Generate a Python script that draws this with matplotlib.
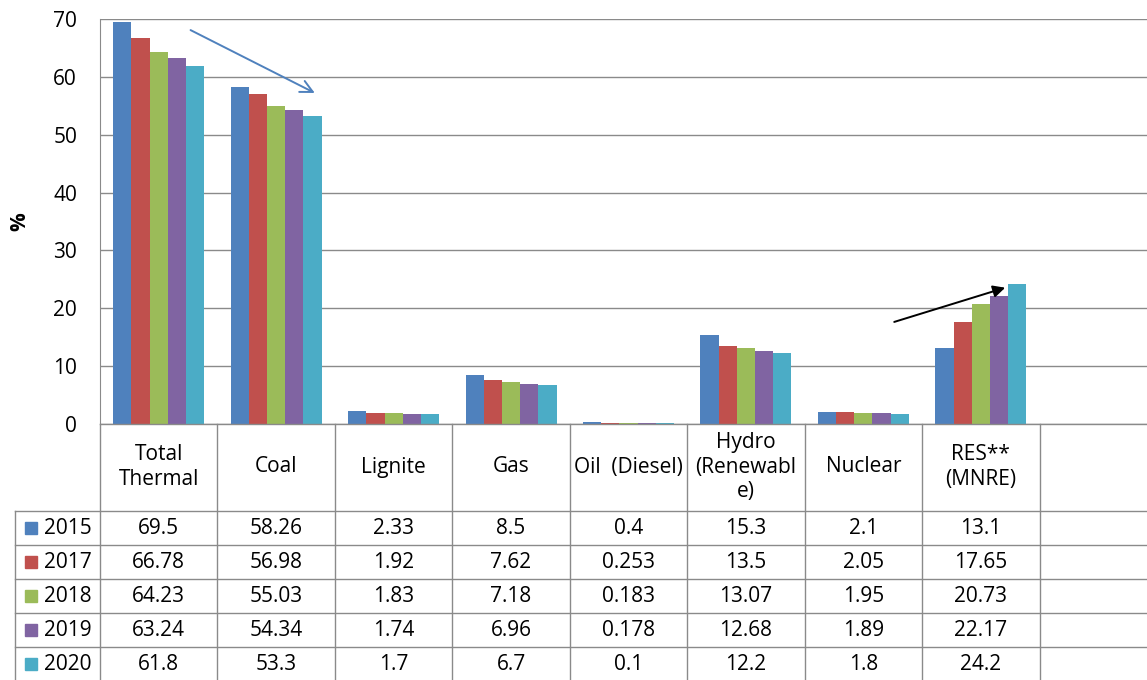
import matplotlib.pyplot as plt
import matplotlib.transforms as mtransforms
import numpy as np

plt.rcParams['font.family'] = ['Open Sans', 'DejaVu Sans']

# share of installed capacity by source (%)
categories = ["Total\nThermal", "Coal", "Lignite", "Gas", "Oil  (Diesel)",
              "Hydro\n(Renewabl\ne)", "Nuclear", "RES**\n(MNRE)", ""]
years = ["2015", "2017", "2018", "2019", "2020"]
v2015 = [69.5, 58.26, 2.33, 8.5, 0.4, 15.3, 2.1, 13.1]
v2017 = [66.78, 56.98, 1.92, 7.62, 0.253, 13.5, 2.05, 17.65]
v2018 = [64.23, 55.03, 1.83, 7.18, 0.183, 13.07, 1.95, 20.73]
v2019 = [63.24, 54.34, 1.74, 6.96, 0.178, 12.68, 1.89, 22.17]
v2020 = [61.8, 53.3, 1.7, 6.7, 0.1, 12.2, 1.8, 24.2]
series = [v2015, v2017, v2018, v2019, v2020]
labels = [["69.5", "58.26", "2.33", "8.5", "0.4", "15.3", "2.1", "13.1"],
          ["66.78", "56.98", "1.92", "7.62", "0.253", "13.5", "2.05", "17.65"],
          ["64.23", "55.03", "1.83", "7.18", "0.183", "13.07", "1.95", "20.73"],
          ["63.24", "54.34", "1.74", "6.96", "0.178", "12.68", "1.89", "22.17"],
          ["61.8", "53.3", "1.7", "6.7", "0.1", "12.2", "1.8", "24.2"]]
colors = ["#4F81BD", "#C0504D", "#9BBB59", "#8064A2", "#4BACC6"]

W, H = 1147, 680
fig = plt.figure(figsize=(W / 100, H / 100), dpi=100)
# plot area runs slightly past the right edge of the image
ax = fig.add_axes([100 / W, (H - 424) / H, (1157 - 100) / W, (424 - 19) / H])

grid_c = "#8a8a8a"
n = len(categories)
x = np.arange(n - 1)
bw = 0.155
for j, vals in enumerate(series):
    ax.bar(x + (j - 2) * bw, vals, bw, color=colors[j], zorder=3)

ax.set_xlim(-0.5, n - 0.5)
ax.set_ylim(0, 70)
ax.set_yticks(range(0, 71, 10))
ax.tick_params(axis="y", length=0, labelsize=15, pad=16.5)
ax.set_xticks([])
ax.grid(axis="y", color=grid_c, lw=1.0, zorder=0)
for s in ["top", "right", "bottom"]:
    ax.spines[s].set_visible(False)
ax.spines["left"].set_color(grid_c)

ft = fig.transFigure


def py(p):
    return (H - p) / H


fig.text(20 / W, py(222), "%", transform=ft, rotation=90, ha="center",
         va="center", fontsize=15, fontweight="bold")

# trend arrows
ax.annotate("", xy=(1.35, 57.0), xytext=(0.25, 68.3),
            arrowprops=dict(arrowstyle="->", color="#4F81BD", lw=1.4,
                            mutation_scale=22), zorder=5)
ax.annotate("", xy=(7.23, 23.7), xytext=(6.24, 17.5),
            arrowprops=dict(arrowstyle="-|>", color="black", lw=1.4,
                            mutation_scale=18), zorder=5)

# data table below the axis (x in data units, y in pixels from top)
tr = mtransforms.blended_transform_factory(ax.transData, fig.transFigure)

row_edges = [424, 511, 545, 579, 613, 647, 681]
for yy in row_edges[1:]:
    fig.add_artist(plt.Line2D([15 / W, 1], [py(yy), py(yy)], color=grid_c, lw=1.0, transform=ft))
fig.add_artist(plt.Line2D([15 / W, 15 / W], [py(511), py(681)], color=grid_c, lw=1.0, transform=ft))
fig.add_artist(plt.Line2D([100 / W, 100 / W], [py(424), py(681)], color=grid_c, lw=1.0, transform=ft))
fig.add_artist(plt.Line2D([100 / W, 1], [py(424), py(424)], color=grid_c, lw=1.0, transform=ft))
for b in np.arange(n) + 0.5:
    fig.add_artist(plt.Line2D([b, b], [py(424), py(681)], color=grid_c, lw=1.0, transform=tr))

for i, c in enumerate(categories):
    fig.text(i, py(467), c, transform=tr, ha="center", va="center",
             fontsize=15, linespacing=1.2)

for r, yr in enumerate(years):
    yc = py((row_edges[r + 1] + row_edges[r + 2]) / 2)
    fig.add_artist(plt.Rectangle((25 / W, yc - 6 / H), 12 / W, 12 / H,
                                 color=colors[r], transform=ft))
    fig.text(44 / W, yc, yr, transform=ft, ha="left", va="center", fontsize=15)
    for i, lab in enumerate(labels[r]):
        fig.text(i, yc, lab, transform=tr, ha="center", va="center", fontsize=15)

fig.savefig("out.png", dpi=100)
